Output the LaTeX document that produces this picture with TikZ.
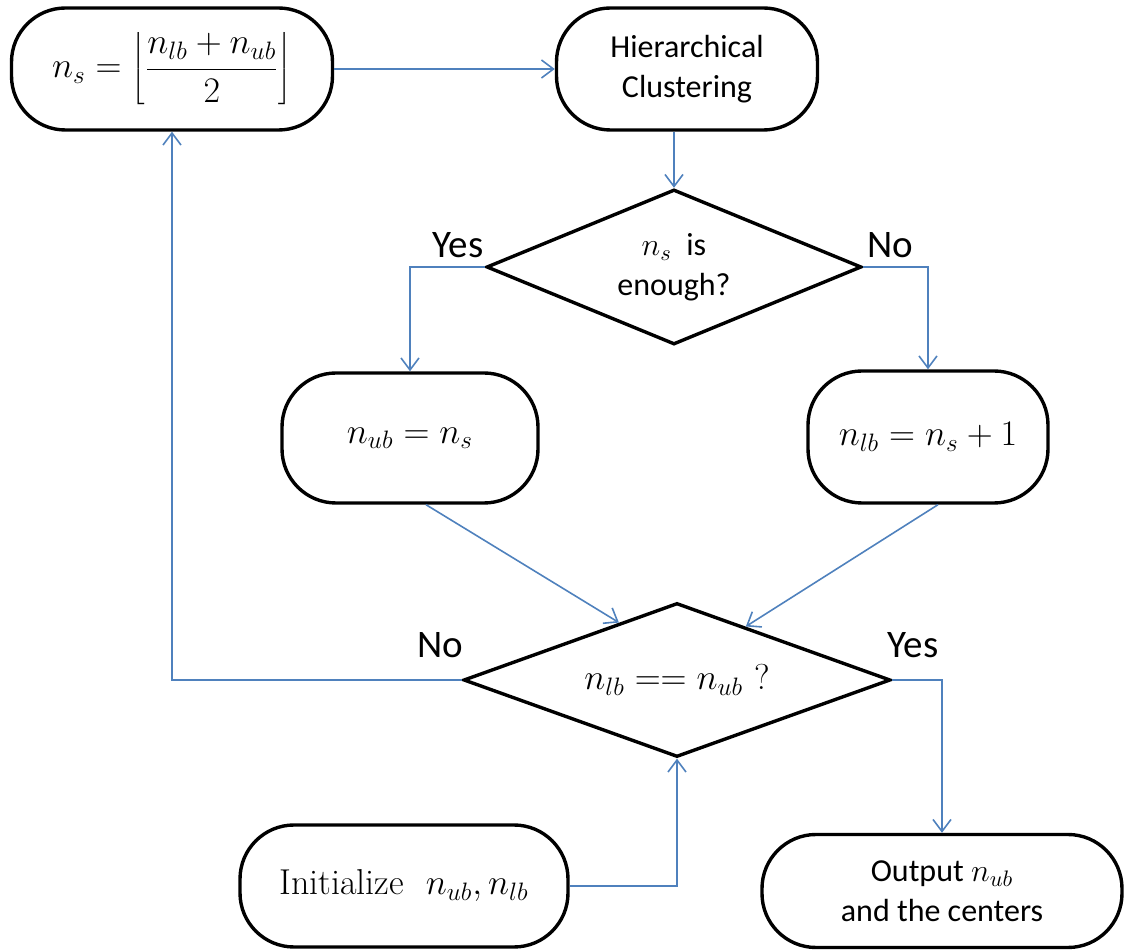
\documentclass[tikz,border=0pt]{standalone}
\usepackage{fix-cm}
\usepackage{fontspec}
\setsansfont{Carlito}
\usetikzlibrary{shapes.geometric,arrows.meta,calc}
\definecolor{linkblue}{RGB}{79,129,189}

\begin{document}
\begin{tikzpicture}[%
      x=0.5pt, y=-0.5pt,
      box/.style={draw=black, line width=1.7pt, rounded corners=27pt, align=center, inner sep=0pt, font=\fontsize{16}{20}\selectfont\sffamily},
      decision/.style={draw=black, line width=1.7pt, diamond, aspect=2.7, align=center, inner sep=0pt, font=\fontsize{16}{20}\selectfont\sffamily},
      mathbox/.style={font=\fontsize{18}{22}\selectfont},
      link/.style={color=linkblue, line width=0.8pt, -{Straight Barb[length=6pt,width=9pt]}},
      answer/.style={font=\fontsize{19.5}{22}\selectfont\sffamily},
      ]
      \useasboundingbox (0,0) rectangle (1126,951);

      \node[box, mathbox, minimum width=160.5pt, minimum height=61pt] (ns) at (172,69)
            {$\displaystyle n_s=\left\lfloor\frac{n_{lb}+n_{ub}}{2}\right\rfloor$};
      \node[box, minimum width=130.5pt, minimum height=61pt] (hc) at (687,69) {Hierarchical\\Clustering};
      \node[decision, minimum width=187.5pt, minimum height=77.5pt] (dec1) at (674,267) {$n_s$\ \ is\\enough?};
      \node[box, mathbox, minimum width=128pt, minimum height=65pt] (nub) at (410,438) {$n_{ub}=n_s$};
      \node[box, mathbox, minimum width=120pt, minimum height=66pt] (nlb) at (928,437) {$n_{lb}=n_s+1$};
      \node[decision, mathbox, minimum width=213.5pt, minimum height=77pt] (dec2) at (677,680) {$n_{lb}==n_{ub}$ ?};
      \node[box, minimum width=164pt, minimum height=61pt, font=\fontsize{18}{22}\selectfont\rmfamily] (init) at (404,886)
            {Initialize\ \ $n_{ub}, n_{lb}$};
      \node[box, minimum width=180pt, minimum height=56.5pt] (out) at (942,891) {Output $n_{ub}$\\and the centers};

      \node[answer] (yes1) at (458,245) {Yes};
      \node[answer] (no1) at (890,245) {No};
      \node[answer] (no2) at (440,645) {No};
      \node[answer] (yes2) at (913,645) {Yes};

      \draw[link] (ns) -- (hc);
      \draw[link] (dec1.north |- hc.south) -- (dec1.north);
      \draw[link] (dec1.west) -| (nub.north);
      \draw[link] (dec1.east) -| (nlb.north);
      \draw[link] ([xshift=8pt]nub.south) -- ($(dec2.north)!0.27!(dec2.west)$);
      \draw[link] ([xshift=5pt]nlb.south) -- ($(dec2.north)!0.32!(dec2.east)$);
      \draw[link] (dec2.west) -| (ns.south);
      \draw[link] (dec2.east) -| (out.north);
      \draw[link] (init.east) -| (dec2.south);
      \end{tikzpicture}
\end{document}
